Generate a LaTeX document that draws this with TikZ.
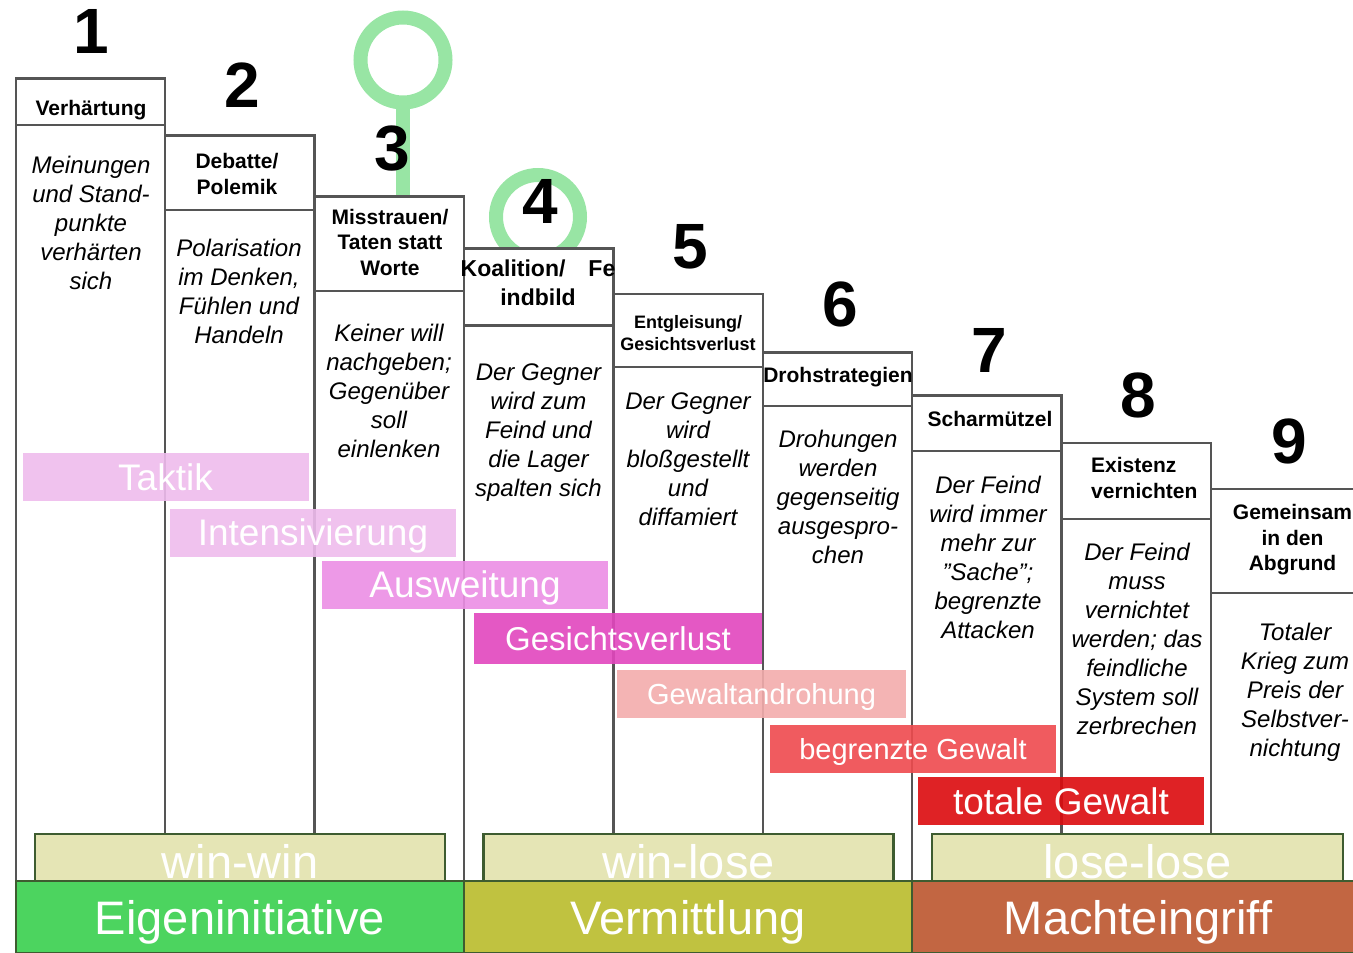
\documentclass[tikz,border=0pt]{standalone}
\usepackage{fontspec}
\setmainfont{Liberation Sans}
\definecolor{ringgreen}{HTML}{98E5A4}
\definecolor{colgray}{HTML}{555555}
\definecolor{taktikpink}{HTML}{EFBCED}
\definecolor{ausweitpink}{HTML}{EC8EE5}
\definecolor{gesichtpink}{HTML}{E246BE}
\definecolor{drohrose}{HTML}{F3ACAC}
\definecolor{begrenztred}{HTML}{EF4A4E}
\definecolor{totalred}{HTML}{DC0A0E}
\definecolor{winfill}{HTML}{E5E5B5}
\definecolor{edgegreen}{HTML}{3E5C30}
\definecolor{eigengreen}{HTML}{4CD45F}
\definecolor{vermolive}{HTML}{C0C240}
\definecolor{machtbrown}{HTML}{C26642}
\newcommand{\fsz}[2]{\fontsize{#1}{#2}\selectfont}

\begin{document}
\begin{tikzpicture}[x=1pt, y=-1pt, every node/.style={inner sep=0pt},
    colline/.style={draw=colgray, line width=2.7pt, fill=white},
    ring/.style={draw=ringgreen, line width=14pt},
    stagenum/.style={font=\fsz{64}{64}\bfseries, anchor=base},
    hdr/.style={font=\fsz{21}{25.6}\bfseries, align=center, anchor=base},
    body/.style={font=\fsz{24}{29}\itshape, align=center, anchor=base},
    bar/.style={minimum width=286pt, minimum height=48pt, text=white, fill opacity=0.9, text opacity=1,
        font=\fsz{37}{37}, text height=26.5pt, text depth=0pt},
    winbar/.style={draw=edgegreen, line width=2.2pt, fill=winfill, minimum width=410pt, minimum height=47pt,
        text=white, font=\fsz{47}{47}, text height=41pt, text depth=0pt},
    band/.style={draw=edgegreen, line width=1.6pt, minimum width=448pt, minimum height=72pt,
        text=white, font=\fsz{47}{47}, text height=34pt, text depth=0pt}]
    \clip (0,0) rectangle (1353,953);

    % green markers behind stages 3 and 4
    \draw[ring] (403,60) circle[radius=42.5pt];
    \draw[ring] (403,103) -- (403,198);
    \draw[ring] (538,217) circle[radius=42pt];

    % stage columns: header box and body
    \draw[colline] (16,78.7) rectangle (165,125);
    \draw[colline] (16,125) rectangle (165,881);
    \draw[colline] (165,135.7) rectangle (314.5,210);
    \draw[colline] (165,210) rectangle (314.5,881);
    \draw[colline] (314.5,196.7) rectangle (464,291);
    \draw[colline] (314.5,291) rectangle (464,881);
    \draw[colline] (464,248.7) rectangle (613.5,325.7);
    \draw[colline] (464,325.7) rectangle (613.5,881);
    \draw[colline] (613.5,294) rectangle (763,367);
    \draw[colline] (613.5,367) rectangle (763,881);
    \draw[colline] (763,352.7) rectangle (912,406);
    \draw[colline] (763,406) rectangle (912,881);
    \draw[colline] (912,395.7) rectangle (1061.5,451);
    \draw[colline] (912,451) rectangle (1061.5,881);
    \draw[colline] (1061.5,443) rectangle (1211,519);
    \draw[colline] (1061.5,519) rectangle (1211,881);
    \draw[colline] (1211,489) rectangle (1360,593);
    \draw[colline] (1211,593) rectangle (1360,881);

    % stage numbers
    \node[stagenum] (n1) at (91,53.5) {1};
    \node[stagenum] (n2) at (242,107.3) {2};
    \node[stagenum] (n3) at (392,170) {3};
    \node[stagenum] (n4) at (540.5,223.3) {4};
    \node[stagenum] (n5) at (690.5,268.3) {5};
    \node[stagenum] (n6) at (840,326.7) {6};
    \node[stagenum] (n7) at (989,372) {7};
    \node[stagenum] (n8) at (1138,417.7) {8};
    \node[stagenum] (n9) at (1289,463.3) {9};

    % stage titles (placed at the baseline of their last line)
    \node[hdr] (h1) at (91,115) {Verhärtung};
    \node[hdr] (h2) at (237,194.5) {Debatte/\\Polemik};
    \node[hdr] (h3) at (390,275.5) {Misstrauen/\\Taten statt\\Worte};
    \node[hdr, font=\fsz{23}{29}\bfseries] (h4) at (538,305.7) {Koalition/\hspace{23pt}Fe\\indbild};
    \node[hdr, font=\fsz{18}{22.4}\bfseries] (h5) at (688,350.7) {Entgleisung/\\Gesichtsverlust};
    \node[hdr] (h6) at (838,382.7) {Drohstrategien};
    \node[hdr] (h7) at (990,426.7) {Scharmützel};
    \node[hdr, align=left, anchor=base west] (h8) at (1091,498.3) {Existenz\\vernichten};
    \node[hdr] (h9) at (1292.5,570.7) {Gemeinsam\\in den\\Abgrund};

    % stage descriptions
    \node[body] (b1) at (91,289) {Meinungen\\und Stand-\\punkte\\verhärten\\sich};
    \node[body] (b2) at (239,343) {Polarisation\\im Denken,\\Fühlen und\\Handeln};
    \node[body] (b3) at (389,457) {Keiner will\\nachgeben;\\Gegenüber\\soll\\einlenken};
    \node[body] (b4) at (538.5,496) {Der Gegner\\wird zum\\Feind und\\die Lager\\spalten sich};
    \node[body] (b5) at (688,525) {Der Gegner\\wird\\bloßgestellt\\und\\diffamiert};
    \node[body] (b6) at (838,563) {Drohungen\\werden\\gegenseitig\\ausgespro-\\chen};
    \node[body] (b7) at (988,638) {Der Feind\\wird immer\\mehr zur\\\symbol{34}Sache\symbol{34};\\begrenzte\\Attacken};
    \node[body] (b8) at (1137,734) {Der Feind\\muss\\vernichtet\\werden; das\\feindliche\\System soll\\zerbrechen};
    \node[body] (b9) at (1295,756) {Totaler\\Krieg zum\\Preis der\\Selbstver-\\nichtung};

    % escalation bars
    \node[bar, fill=taktikpink] (taktik) at (165.5,477) {Taktik};
    \node[bar, fill=taktikpink] (intens) at (313,532.5) {Intensivierung};
    \node[bar, fill=ausweitpink] (ausweit) at (465,584.5) {Ausweitung};
    \node[bar, fill=gesichtpink, minimum width=288pt, minimum height=51pt, font=\fsz{33}{33}, text height=23.6pt] (gesicht) at (618,638.5) {Gesichtsverlust};
    \node[bar, fill=drohrose, minimum width=289pt, font=\fsz{29}{29}, text height=20.8pt] (androh) at (761.5,694) {Gewaltandrohung};
    \node[bar, fill=begrenztred, font=\fsz{29}{29}, text height=20.8pt] (begrenzt) at (913,749) {begrenzte Gewalt};
    \node[bar, fill=totalred] (total) at (1061,801) {totale Gewalt};

    % outcome bars
    \node[winbar] (winwin) at (240,857.5) {win-win};
    \node[winbar] (winlose) at (688.5,857.5) {win-lose};
    \node[winbar, minimum width=411pt] (loselose) at (1137.5,857.5) {lose-lose};

    % bottom bands
    \node[band, fill=eigengreen] (eigen) at (240,917) {Eigeninitiative};
    \node[band, fill=vermolive] (verm) at (688,917) {Vermittlung};
    \node[band, fill=machtbrown, minimum width=452pt] (macht) at (1138,917) {Machteingriff};
\end{tikzpicture}
\end{document}
